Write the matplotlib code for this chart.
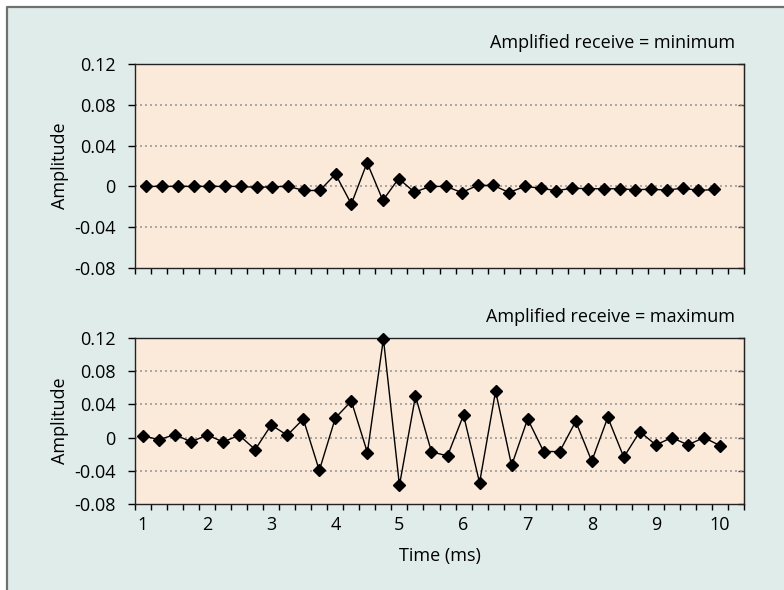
import numpy as np
import matplotlib
matplotlib.use("Agg")
import matplotlib.pyplot as plt
from matplotlib.lines import Line2D

# time axis (ms) - samples every 0.25 ms
time_min = np.linspace(1.05, 9.91, 37)
time_max = np.arange(1.0, 10.01, 0.25)

# amplitude, amplified receive = minimum
amp_min = [0, 0, 0, 0, 0, 0, 0, -0.001, -0.0003, 0,
           -0.004, -0.004, 0.012, -0.0173, 0.0233, -0.0137, 0.0077, -0.0057, 0,
           0, -0.006, 0.001, 0.001, -0.006, 0, -0.0017, -0.0043, -0.0017,
           -0.0023, -0.0023, -0.0023, -0.0033, -0.0027, -0.0037, -0.0017, -0.004, -0.003]

# amplitude, amplified receive = maximum
amp_max = [0.002, -0.0024, 0.0036, -0.0052, 0.0032, -0.0052, 0.0028, -0.0144, 0.0152, 0.0028,
           0.0224, -0.0396, 0.0236, 0.044, -0.018, 0.119, -0.0576, 0.05, -0.0172,
           -0.022, 0.0272, -0.0544, 0.056, -0.0336, 0.0224, -0.0168, -0.0168, 0.0196,
           -0.0284, 0.0244, -0.0236, 0.0072, -0.0088, 0, -0.0088, 0, -0.0096]

yticks = [-0.08, -0.04, 0, 0.04, 0.08, 0.12]
ylabels = ["-0.08", "-0.04", "0", "0.04", "0.08", "0.12"]
xlabels = [str(i) for i in range(1, 11)]

bg = "#e0ecea"
panel = "#fbe9d9"
fs = 13
plt.rcParams['font.family'] = ['Open Sans', 'DejaVu Sans']

fig = plt.figure(figsize=(7.84, 5.9), dpi=100)
fig.patch.set_facecolor("white")
# light background with grey frame on left and top
fig.patches.append(plt.Rectangle((7/784, 0), 1, 1 - 7/590, transform=fig.transFigure,
                                 facecolor=bg, edgecolor="none", zorder=-10))
fig.lines.append(Line2D([7/784, 7/784, 1], [0, 1 - 7/590, 1 - 7/590], transform=fig.transFigure,
                        color="#707070", lw=1.6))

ax1 = fig.add_axes([135/784, 1 - 268/590, 609/784, 204/590])
ax2 = fig.add_axes([135/784, 1 - 504/590, 609/784, 166/590])

bounds = np.arange(0.875, 10.4, 0.25)

for ax, t, y, title in [(ax1, time_min, amp_min, "Amplified receive = minimum"),
                        (ax2, time_max, amp_max, "Amplified receive = maximum")]:
    ax.set_facecolor(panel)
    for yy in yticks[1:-1]:
        ax.axhline(yy, color="#9a9a9a", lw=1.2, ls=(0, (1.2, 1.8)), zorder=1)
    ax.plot(t, y, color="black", lw=1, marker="D", ms=6, zorder=3, clip_on=False)
    ax.set_xlim(0.875, 10.375)
    ax.set_ylim(-0.08, 0.12)
    ax.set_yticks(yticks)
    ax.set_yticklabels(ylabels, fontsize=fs)
    ax.set_xticks(bounds)
    ax.set_xticklabels([])
    ax.tick_params(axis="x", which="major", direction="out", length=4, width=1)
    ax.tick_params(axis="y", direction="out", length=5, width=1, pad=9)
    ax.set_xticks(range(1, 11), minor=True)
    ax.tick_params(axis="x", which="minor", length=0)
    # short inward ticks on the right side
    axr = ax.secondary_yaxis("right")
    axr.set_yticks(yticks)
    axr.set_yticklabels([])
    axr.tick_params(direction="in", length=4, width=1, color="#444444")
    axr.spines["right"].set_color("#444444")
    for sp in ax.spines.values():
        sp.set_color("#222222")
        sp.set_linewidth(1)
    ax.set_ylabel("Amplitude", fontsize=fs, labelpad=3.5)
    ax.annotate(title, xy=(1, 1), xycoords="axes fraction", xytext=(-9, 15.5),
                textcoords="offset pixels", ha="right", va="baseline", fontsize=fs)

ax2.set_xticklabels(xlabels, minor=True, fontsize=fs)
ax2.tick_params(axis="x", which="minor", pad=9)
ax2.set_xlabel("Time (ms)", fontsize=fs, labelpad=9)

fig.savefig("out.png", dpi=100)
